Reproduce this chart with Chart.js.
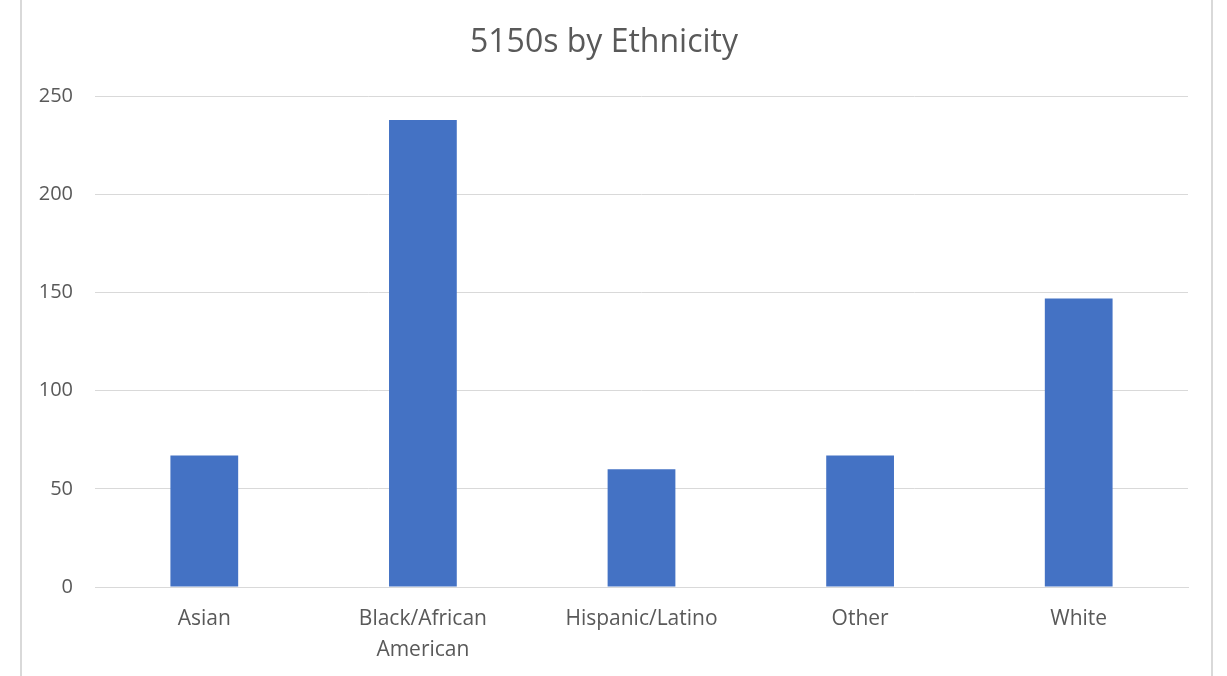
<!DOCTYPE html>
<html>
<head>
<meta charset="utf-8">
<script src="https://cdn.jsdelivr.net/npm/chart.js@4/dist/chart.umd.min.js"></script>
<style>
  html, body { margin: 0; padding: 0; background: #fff; }
  #wrap { position: relative; width: 1227px; height: 676px; }
  #frame {
    position: absolute; left: 20px; top: 0; width: 1193px; height: 676px;
    border-left: 2px solid #d9d9d9; border-right: 2px solid #d9d9d9;
    box-sizing: border-box; pointer-events: none;
  }
</style>
</head>
<body>
<div id="wrap">
  <canvas id="chart" width="1227" height="676"></canvas>
  <div id="frame"></div>
</div>
<script>
// 类别和数值
const categories = ['Asian', ['Black/African', 'American'], 'Hispanic/Latino', 'Other', 'White'];
const counts = [67, 238, 60, 67, 147];
const yTicks = [0, 50, 100, 150, 200, 250];

const TEXT = '#595959';
const GRID = '#d9d9d9';
const FONT = "'Open Sans', 'DejaVu Sans', sans-serif";

new Chart(document.getElementById('chart'), {
  type: 'bar',
  data: {
    labels: categories,
    datasets: [{
      label: '5150s',
      data: counts,
      backgroundColor: '#4472C4',
      borderWidth: 0,
      categoryPercentage: 1,
      barPercentage: 0.31
    }]
  },
  options: {
    responsive: false,
    animation: false,
    layout: { padding: { left: 20, right: 39, top: 0, bottom: 0 } },
    plugins: {
      legend: { display: false },
      tooltip: { enabled: false },
      title: {
        display: true,
        text: '5150s by Ethnicity',
        color: TEXT,
        font: { family: FONT, size: 32, weight: 'normal', lineHeight: 1.2 },
        padding: { top: 24, bottom: 34 }
      }
    },
    scales: {
      x: {
        grid: { display: false },
        border: { color: GRID, width: 1 },
        ticks: {
          color: TEXT,
          font: { family: FONT, size: 21, lineHeight: 1.45 },
          padding: 9,
          maxRotation: 0,
          autoSkip: false
        },
        afterFit: (axis) => { axis.height = 89; }
      },
      y: {
        min: yTicks[0],
        max: yTicks[yTicks.length - 1],
        afterBuildTicks: (axis) => { axis.ticks = yTicks.map(v => ({ value: v })); },
        grid: { color: GRID, lineWidth: 1, drawTicks: false },
        border: { display: false },
        ticks: {
          color: TEXT,
          font: { family: FONT, size: 20 },
          padding: 22
        },
        afterFit: (axis) => { axis.width = 75; }
      }
    }
  }
});
</script>
</body>
</html>
